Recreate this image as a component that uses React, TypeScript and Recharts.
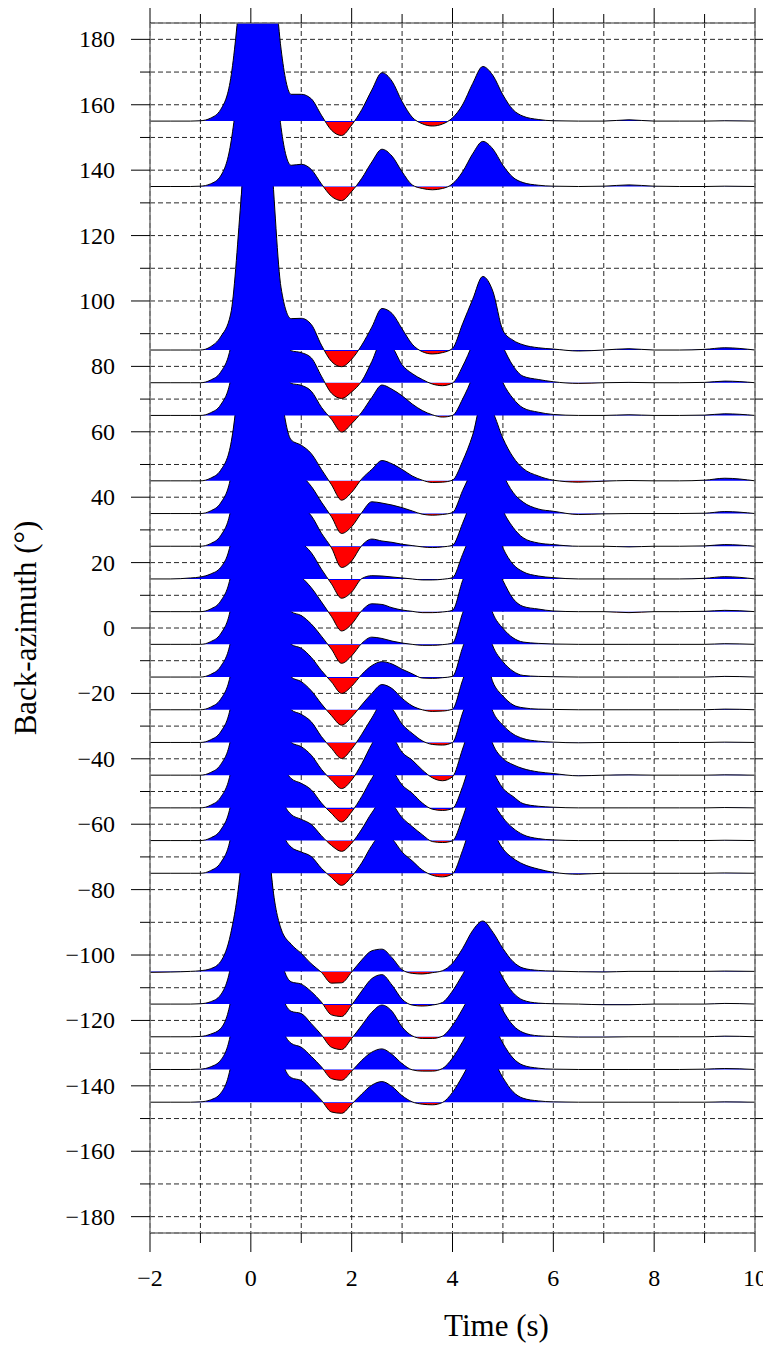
import React from 'react';
import { ComposedChart, Area, XAxis, YAxis, CartesianGrid, Label } from 'recharts';

// sample times (s)
const TIMES = [
  -2, -1.6, -1.2, -1.0,
  -0.8, -0.6, -0.4, -0.2, 0, 0.2, 0.4, 0.6, 0.8,
  1.0, 1.2, 1.4, 1.6, 1.8, 2.0, 2.2, 2.4,
  2.6, 2.8, 3.0, 3.2, 3.4, 3.6, 3.8, 4.0,
  4.2, 4.4, 4.6, 4.8, 5.0, 5.2, 5.4, 5.7,
  6.0, 6.5, 7.0, 7.5, 8.0, 8.5, 9.0, 9.4, 10,
];

// back-azimuths of the traces (deg)
const BACK_AZIMUTHS = [155, 135, 85, 75, 65, 45, 35, 25, 15, 5, -5, -15, -25, -35, -45, -55, -65, -75, -105, -115, -125, -135, -145];

// trace amplitudes (deg units on the plot) at TIMES
const RF_P155 = [0, 0, 0, 0.1, 0.9, 3.5, 13, 42, 85, 92, 58, 22, 8.2, 8.2, 6.8, 1.8, -2.8, -4.4, -1.2, 3.5, 9.5, 14.8, 12.2, 6, 1.2, -0.8, -1.5, -0.9, 1.0, 5, 11.5, 16.7, 14, 8, 3.5, 1.5, 0.5, 0.1, 0, 0, 0.4, 0, 0, 0, 0.1, 0];
const RF_P135 = [0, 0, 0, 0.1, 0.8, 3.2, 13, 40, 85, 92, 55, 18, 6.5, 6.8, 5.2, 0.8, -3.0, -4.3, -1.5, 2.5, 7.5, 11.4, 9.3, 4.5, 0.5, -0.6, -1.0, -0.6, 0.8, 4.5, 10, 13.8, 11.5, 6.5, 2.8, 1.2, 0.4, 0.1, 0, 0.1, 0.5, 0.1, 0, 0, 0.1, 0];
const RF_P85 = [0, 0, 0, 0, 1.0, 4.0, 11, 45, 88, 95, 60, 19, 9.6, 9.7, 7.8, 1.5, -3.5, -5.1, -2.8, 1.5, 7, 12.7, 11.2, 6.5, 1.8, -0.5, -1.2, -0.8, 0.5, 8, 15.5, 22.5, 18, 6, 3.0, 1.6, 0.7, 0.3, -0.3, 0, 0.4, 0, 0, 0.2, 0.7, 0];
const RF_P75 = [0, 0, 0, 0, 0.8, 3.2, 11, 38, 85, 92, 55, 17, 9.8, 9.2, 7.6, 2.0, -3.2, -4.8, -2.8, 0.5, 6.5, 12.8, 11, 5.5, 2.8, 1.0, -0.4, -0.9, -0.1, 5, 12, 21, 18, 11, 5.2, 2.0, 1.0, 0.3, -0.2, 0, 0.1, 0, 0, 0.1, 0.5, 0];
const RF_P65 = [0, 0, 0, 0, 0.8, 3.2, 11, 38, 85, 92, 55, 17, 9.8, 9.2, 7.4, 2.5, -1.2, -5.1, -2.5, 1.0, 5.5, 9.3, 8.0, 6.0, 3.5, 1.5, 0.2, -0.5, 0, 5, 12, 22, 18, 10, 5.2, 2.3, 1.0, 0.3, 0, 0, 0.2, 0, 0, 0.1, 0.5, 0];
const RF_P45 = [0, 0, 0, 0, 0.8, 3.2, 11, 38, 85, 92, 58, 27, 12.5, 10.9, 8.3, 3.5, -1.2, -5.9, -3.5, 0.6, 3.5, 6.2, 5.2, 3.5, 1.5, 0.2, -0.5, -0.4, 0.2, 6, 14, 25, 21, 13, 7.3, 3.8, 1.5, 0.2, -0.4, -0.1, 0.1, 0, 0, 0.2, 0.8, 0];
const RF_P35 = [0, 0, 0, 0, 0.8, 3.2, 11, 38, 85, 92, 58, 26, 13, 11.5, 8.3, 3.5, -1.0, -6.1, -4.0, 0.3, 3.6, 3.2, 2.6, 1.8, 0.8, -0.2, -0.5, -0.3, 0.3, 7, 14, 24, 20, 12, 6.5, 3.5, 1.4, 0.7, -0.3, -0.1, 0, 0, 0, 0.1, 0.6, 0];
const RF_P25 = [0, 0, 0, 0, 0.8, 3.2, 11, 38, 85, 92, 58, 26, 13, 12, 9.3, 4.0, -0.5, -6.5, -4.5, 0.2, 2.2, 1.6, 1.2, 0.6, 0.2, -0.2, -0.4, -0.2, 0.3, 7, 15, 24, 20, 11, 5.8, 2.6, 1.0, 0.5, 0, 0, -0.2, 0, 0, 0.1, 0.5, 0];
const RF_P15 = [0, 0, 0.3, 0.6, 1.5, 3.5, 11, 38, 85, 92, 58, 26, 12.5, 11, 8.0, 3.0, -1.5, -5.9, -4.0, 0.1, 1.0, 0.9, 0.6, 0.3, 0, -0.3, -0.3, -0.1, 0.4, 7.5, 15, 23, 18, 9.5, 4.5, 2.2, 0.9, 0.4, 0, 0, 0, 0, 0, 0.2, 0.7, 0];
const RF_P5 = [0, 0, 0, 0, 0.8, 3.2, 11, 38, 85, 92, 55, 24, 12, 10.5, 7.3, 3.0, -1.5, -5.9, -3.8, 0.3, 2.4, 2.2, 1.2, 0.5, 0.1, -0.3, -0.3, -0.1, 0.4, 9.5, 17, 22, 16, 9.5, 4, 1.6, 0.8, 0.2, 0, 0, -0.3, 0, 0, 0.1, 0.4, 0];
const RF_M5 = [0, 0, 0, 0, 0.8, 3.2, 11, 38, 85, 92, 50, 16, 10, 8.8, 6.2, 2.5, -1.5, -5.8, -3.5, 0.3, 2.2, 1.8, 1.0, 0.4, 0, -0.3, -0.3, -0.1, 0.4, 9.5, 17, 20, 9.5, 4.9, 2.0, 0.7, 0.3, 0.1, 0, 0, 0, 0, 0, 0, 0.2, 0];
const RF_M15 = [0, 0, 0, 0, 0.8, 3.2, 11, 38, 85, 92, 50, 16, 10, 8.8, 6.0, 2.0, -1.5, -5.0, -2.8, 0.8, 3.5, 4.7, 4.0, 2.4, 1.0, -0.3, -0.4, -0.2, 0.2, 9, 17, 20, 9.5, 4.7, 1.8, 0.5, 0.2, 0.1, 0, 0, 0, 0, 0, 0, 0.2, 0];
const RF_M25 = [0, 0, 0, 0, 0.8, 3.2, 11, 38, 85, 92, 50, 16, 10, 8.6, 5.8, 1.8, -1.8, -4.7, -2.2, 1.5, 5.0, 7.7, 6.5, 3.5, 1.2, 0, -0.5, -0.4, 0.2, 9, 17, 19, 8.5, 4.2, 1.5, 0.6, 0.2, 0.1, 0, 0, 0, 0, 0, 0, 0.2, 0];
const RF_M35 = [0, 0, 0, 0, 0.8, 3.2, 11, 38, 85, 92, 50, 16, 10, 8.6, 6.3, 1.8, -1.8, -4.9, -2.0, 2.5, 7.5, 11.8, 10.3, 5.6, 2.8, 0.5, -0.6, -0.8, 0, 9, 17, 20, 9.5, 5.3, 2.6, 1.2, 0.4, 0.1, -0.1, 0, 0, 0, 0, 0, 0.1, 0];
const RF_M45 = [0, 0, 0, 0, 0.8, 3.2, 11, 38, 85, 92, 50, 16, 10, 8.7, 6.1, 1.8, -1.5, -4.1, -1.5, 3.5, 9.5, 14, 12, 7, 4.6, 1.6, -0.8, -1.7, -0.5, 8, 17, 20, 9.5, 5.1, 3.2, 2.0, 1.0, 0.5, -0.2, 0, 0.1, 0, 0, 0, 0.1, 0];
const RF_M55 = [0, 0, 0, 0, 0.8, 3.2, 11, 38, 85, 92, 50, 15, 9, 7.5, 5.5, 1.5, -1.7, -4.3, -1.2, 3.5, 9, 13, 11.5, 7, 4.5, 1.5, -0.4, -0.8, -0.2, 6.5, 16, 20, 11.5, 6, 3.5, 1.3, 0.5, 0.2, 0, 0, 0, 0, 0, 0, 0.1, 0];
const RF_M65 = [0, 0, 0, 0, 0.8, 3.2, 11, 38, 85, 92, 48, 14, 8, 6.5, 4.9, 1.5, -1.5, -3.3, -0.8, 3.5, 8.5, 12, 11, 7, 4.3, 1.8, -0.3, -0.6, -0.1, 7, 16, 20, 12, 7, 3.8, 1.8, 0.6, 0.2, 0, 0, 0, 0, 0, 0, 0.1, 0];
const RF_M75 = [0, 0, 0, 0, 0.8, 3.2, 11, 38, 85, 92, 48, 14, 8, 6.5, 5.1, 1.5, -1.3, -3.7, -1.0, 3.2, 8.5, 12, 10.5, 6.5, 3.8, 1.0, -0.6, -1.1, -0.2, 7, 16, 20, 13, 7.5, 4.6, 2.8, 1.3, 0.3, -0.3, 0, 0, 0, 0, 0, 0.1, 0];
const RF_M105 = [-0.3, -0.2, 0, 0.2, 0.8, 3, 11.5, 32, 75, 80, 31, 13, 8.3, 5.5, 2.3, -0.3, -3.6, -3.5, -0.2, 3.5, 6.3, 6.8, 4.2, 0.5, -0.6, -0.8, -0.4, 0.2, 2.5, 7, 12.5, 15.4, 12, 7, 3.0, 1.0, 0.3, 0.1, -0.1, -0.2, 0, 0, 0, 0, 0.1, 0];
const RF_M115 = [0, 0, 0, 0.1, 0.7, 2.8, 11.5, 35, 80, 85, 40, 14, 6.8, 6.1, 3.8, 0.6, -3.3, -3.8, -0.3, 4.0, 7.8, 9.0, 5.8, 1.5, -0.3, -0.6, -0.3, 0.5, 4.0, 9, 14, 17, 14, 8, 3.5, 1.2, 0.3, 0.1, 0, -0.2, -0.2, 0, 0, 0, 0.2, 0];
const RF_M125 = [0, 0, 0, 0.1, 0.8, 2.5, 11, 35, 80, 85, 40, 14, 7.8, 7.1, 4.0, 0.6, -3.2, -3.9, -0.5, 3.5, 7.5, 9.7, 7.8, 3.0, 0.3, -0.5, -0.5, 0.2, 3.5, 8.5, 14, 17, 14, 8, 3.5, 1.3, 0.3, 0.1, -0.1, -0.1, 0, 0, 0, 0, 0.2, 0];
const RF_M135 = [0, 0, 0, 0.1, 0.8, 2.8, 11, 35, 80, 85, 40, 14, 8, 6.8, 4.0, 0.8, -2.8, -3.3, -0.5, 2.8, 5.3, 6.3, 4.6, 1.8, -0.1, -0.5, -0.5, 0.3, 3.5, 8.5, 14, 17, 14, 8, 3.5, 1.3, 0.4, 0.1, 0, 0, 0, 0, 0, 0.1, 0.3, 0];
const RF_M145 = [0, 0, 0, 0.1, 0.7, 2.7, 11, 35, 80, 85, 40, 14, 7.5, 6.6, 3.8, 0.6, -3.0, -3.4, -0.6, 2.5, 5.2, 6.3, 4.8, 2.0, 0.1, -0.6, -0.8, -0.1, 3.0, 8, 13.5, 16, 13, 7.5, 3.2, 1.2, 0.4, 0.1, 0, 0, 0, 0, 0, 0, 0.1, 0];

const TRACE_VALUES = [
  RF_P155, RF_P135, RF_P85, RF_P75, RF_P65, RF_P45, RF_P35, RF_P25, RF_P15, RF_P5,
  RF_M5, RF_M15, RF_M25, RF_M35, RF_M45, RF_M55, RF_M65, RF_M75,
  RF_M105, RF_M115, RF_M125, RF_M135, RF_M145,
];

// axis ticks
const X_TICKS = [-2, -1, 0, 1, 2, 3, 4, 5, 6, 7, 8, 9, 10];
const X_LABELS = [-2, 0, 2, 4, 6, 8, 10];
const Y_TICKS = [-180, -170, -160, -150, -140, -130, -120, -110, -100, -90, -80, -70, -60, -50, -40, -30, -20, -10, 0, 10, 20, 30, 40, 50, 60, 70, 80, 90, 100, 110, 120, 130, 140, 150, 160, 170, 180];
const Y_LABELS = [-180, -160, -140, -120, -100, -80, -60, -40, -20, 0, 20, 40, 60, 80, 100, 120, 140, 160, 180];
const Y_LONG_RIGHT = [-180, -120, -60, 0, 60, 120, 180];

const FONT = '"Liberation Serif", "Times New Roman", Times, serif';
const BLUE = '#0000ff';
const RED = '#ff0000';

// chart geometry (layout only)
const CHART_W = 763;
const CHART_H = 1340;
const LEFT_W = 142;
const RIGHT_W = 16;
const TOP_H = 15;
const BOTTOM_H = 115;
const PLOT_W = CHART_W - LEFT_W - RIGHT_W;
const PLOT_H = CHART_H - TOP_H - BOTTOM_H;

const fmt = (v: number) => (v < 0 ? '\u2212' + Math.abs(v) : String(v));

const rows = TIMES.map((t, i) => {
  const r: Record<string, number> = { t };
  TRACE_VALUES.forEach((vals, j) => {
    r['s' + j] = BACK_AZIMUTHS[j] + vals[i];
  });
  return r;
});

// blue above the trace's own zero line, red below
const splitOffsets = TRACE_VALUES.map((vals) => {
  const mx = Math.max(0, ...vals);
  const mn = Math.min(0, ...vals);
  if (mx - mn === 0) return 1;
  return Math.min(1, (mx + 0.2) / (mx - mn));
});

// left axis ticks + labels, and the matching unlabelled ticks on the right frame
const LeftTick = (props: any) => {
  const { x, y, payload } = props;
  const v = payload.value;
  const major = Y_LABELS.includes(v);
  return (
    <g>
      <line x1={x} x2={x - (major ? 19 : 10)} y1={y} y2={y} stroke="#000" strokeWidth={1} />
      <line x1={x + PLOT_W} x2={x + PLOT_W + (Y_LONG_RIGHT.includes(v) ? 15 : 10)} y1={y} y2={y} stroke="#000" strokeWidth={1} />
      {major && (
        <text x={x - 35} y={y + 8} textAnchor="end" fontSize={24} fontFamily={FONT} fill="#000">
          {fmt(v)}
        </text>
      )}
    </g>
  );
};

// bottom axis ticks + labels, and the matching unlabelled ticks on the top frame
const BottomTick = (props: any) => {
  const { x, y, payload } = props;
  const v = payload.value;
  const major = X_LABELS.includes(v);
  return (
    <g>
      <line x1={x} x2={x} y1={y} y2={y + (major ? 19 : 10)} stroke="#000" strokeWidth={1} />
      <line x1={x} x2={x} y1={y - PLOT_H} y2={y - PLOT_H - (major ? 18 : 9)} stroke="#000" strokeWidth={1} />
      {major && (
        <text x={x} y={y + 53} textAnchor="middle" fontSize={24} fontFamily={FONT} fill="#000">
          {fmt(v)}
        </text>
      )}
    </g>
  );
};

const frame = { stroke: '#777', strokeWidth: 1.5 };

export default function App() {
  const order = BACK_AZIMUTHS.map((_, j) => j).reverse();
  return (
    <ComposedChart width={CHART_W} height={CHART_H} data={rows} margin={{ top: 0, right: 0, bottom: 0, left: 0 }}>
      <defs>
        {splitOffsets.map((o, j) => (
          <linearGradient key={j} id={'wig' + j} x1="0" y1="0" x2="0" y2="1">
            <stop offset={o} stopColor={BLUE} />
            <stop offset={o} stopColor={RED} />
          </linearGradient>
        ))}
      </defs>
      <CartesianGrid stroke="#111" strokeDasharray="5 3" strokeWidth={0.9} />
      <XAxis
        dataKey="t"
        type="number"
        domain={[-2, 10]}
        allowDataOverflow
        ticks={X_TICKS}
        interval={0}
        height={BOTTOM_H}
        tickSize={0}
        tickMargin={0}
        tickLine={false}
        axisLine={frame}
        tick={<BottomTick />}
      >
        <Label
          content={(p: any) => {
            const vb = p.viewBox || {};
            return (
              <text x={vb.x + vb.width * 0.5727} y={vb.y + 103} textAnchor="middle" fontSize={31} fontFamily={FONT} fill="#000">
                Time (s)
              </text>
            );
          }}
        />
      </XAxis>
      <XAxis
        xAxisId="top"
        orientation="top"
        dataKey="t"
        type="number"
        domain={[-2, 10]}
        allowDataOverflow
        height={TOP_H}
        tick={false}
        tickLine={false}
        axisLine={frame}
      />
      <YAxis
        type="number"
        domain={[-185, 185]}
        allowDataOverflow
        ticks={Y_TICKS}
        interval={0}
        width={LEFT_W}
        tickSize={0}
        tickMargin={0}
        tickLine={false}
        axisLine={frame}
        tick={<LeftTick />}
      >
        <Label
          content={(p: any) => {
            const vb = p.viewBox || {};
            const cx = vb.x + 27.5;
            const cy = vb.y + vb.height / 2;
            return (
              <text x={cx} y={cy} transform={`rotate(-90, ${cx}, ${cy})`} textAnchor="middle" fontSize={31} fontFamily={FONT} fill="#000">
                Back-azimuth (°)
              </text>
            );
          }}
        />
      </YAxis>
      <YAxis
        yAxisId="right"
        orientation="right"
        dataKey="s0"
        type="number"
        domain={[-185, 185]}
        allowDataOverflow
        width={RIGHT_W}
        tick={false}
        tickLine={false}
        axisLine={frame}
      />
      {order.map((j) => (
        <Area
          key={j}
          type="monotone"
          dataKey={'s' + j}
          baseValue={BACK_AZIMUTHS[j]}
          stroke="#000"
          strokeWidth={1}
          fill={`url(#wig${j})`}
          fillOpacity={1}
          dot={false}
          activeDot={false}
          isAnimationActive={false}
        />
      ))}
    </ComposedChart>
  );
}
